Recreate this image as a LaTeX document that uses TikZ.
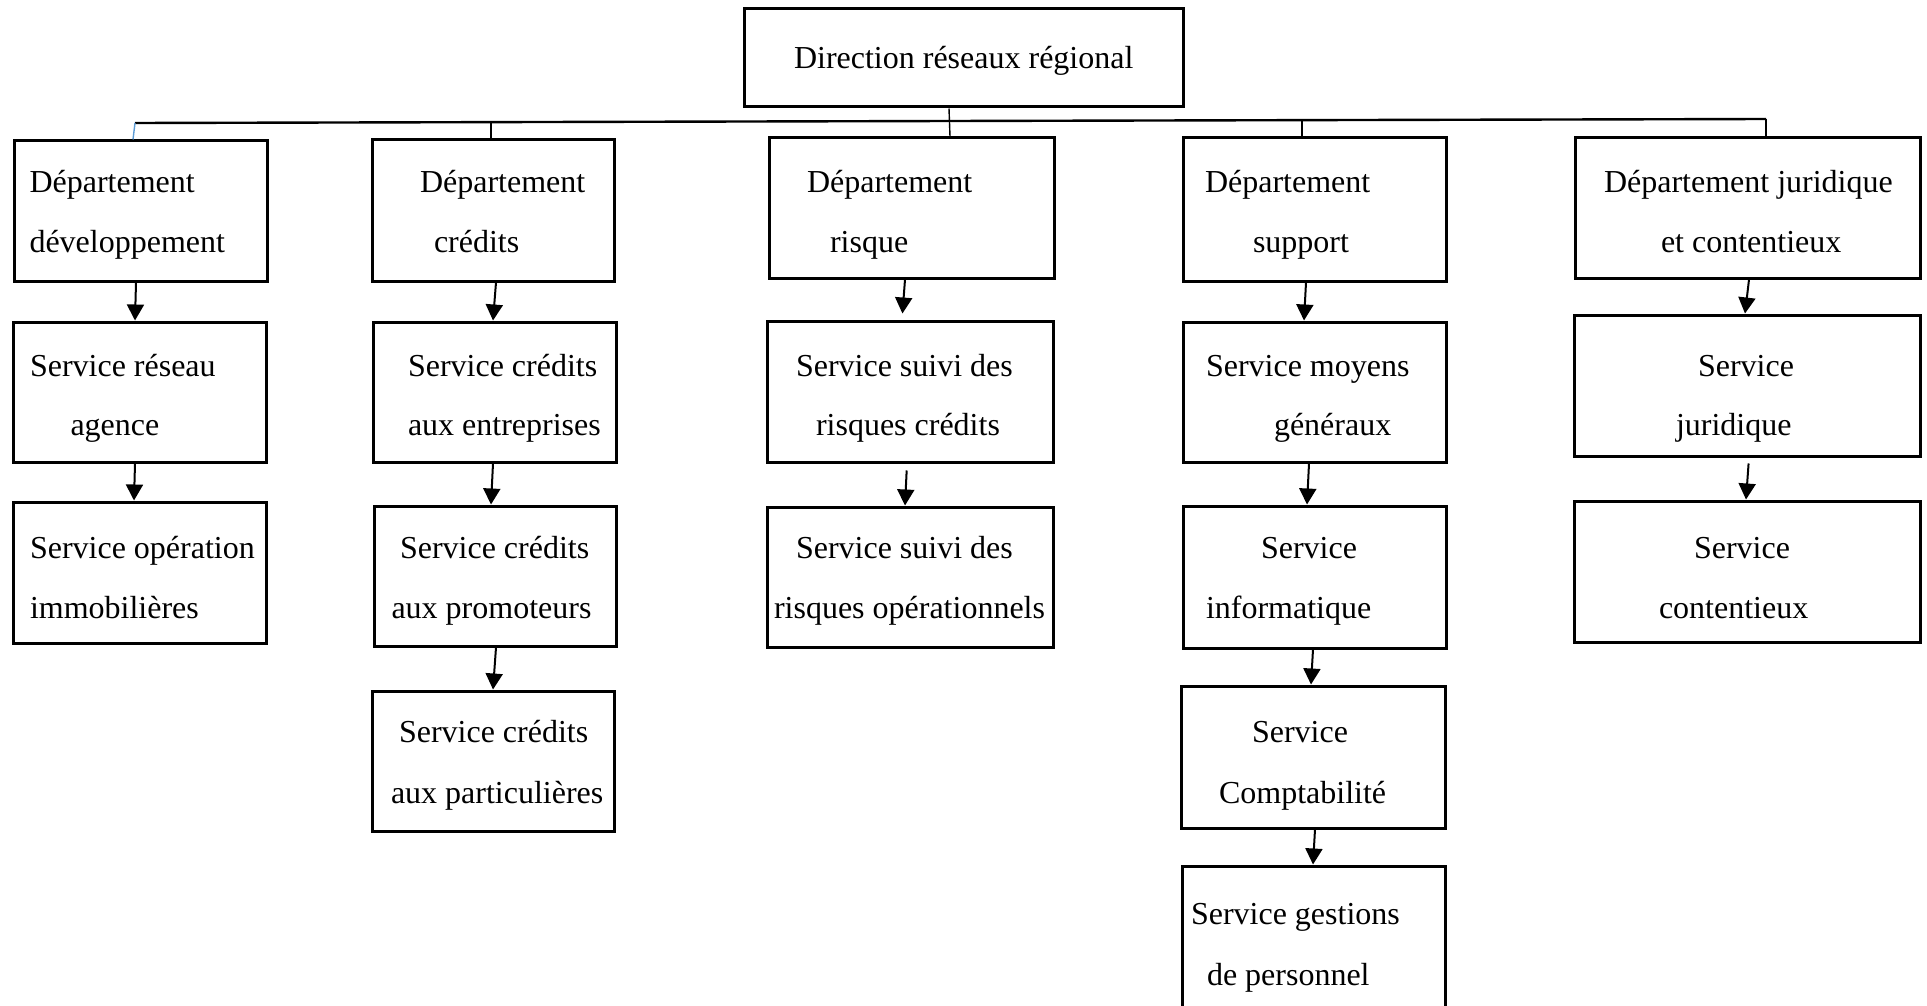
\documentclass[tikz,border=0pt]{standalone}
\usepackage{fontspec}
\setmainfont{Liberation Serif}
\usetikzlibrary{arrows.meta}
\definecolor{linkblue}{HTML}{5B9BD5}
\newcommand\mkbox[5]{\node[orgbox, minimum width={(#4-#2)*0.5pt}, minimum height={(#5-#3)*0.5pt}] (#1) at ({(#2+#4)/2},{(#3+#5)/2}) {};}
\begin{document}
\begin{tikzpicture}[x=0.5pt,y=-0.5pt,
  orgbox/.style={draw=black, line width=1.5pt, inner sep=0pt, fill=none},
  txt/.style={anchor=base west, inner sep=0pt, outer sep=0pt, font=\fontsize{16}{19}\selectfont},
  conn/.style={draw=black, line width=0.9pt},
  arr/.style={draw=black, line width=1pt, -{Triangle[length=8pt,width=8.5pt]}}]
\useasboundingbox (0,0) rectangle (1927,1006);
\clip (0,0) rectangle (1927,1006);
% boxes
\mkbox{dir}{744}{9}{1183}{107}
\mkbox{dev}{14}{141}{267}{281}
\mkbox{cre}{372}{140}{614}{281}
\mkbox{ris}{769}{138}{1054}{278}
\mkbox{sup}{1183}{138}{1446}{281}
\mkbox{jur}{1575}{138}{1920}{278}
\mkbox{res}{13}{322}{266}{462}
\mkbox{ent}{373}{322}{616}{462}
\mkbox{sra}{767}{321}{1053}{462}
\mkbox{moy}{1183}{322}{1446}{462}
\mkbox{sjr}{1574}{315}{1920}{456}
\mkbox{ope}{13}{502}{266}{643}
\mkbox{pro}{374}{506}{616}{646}
\mkbox{srb}{767}{507}{1053}{647}
\mkbox{inf}{1183}{506}{1446}{648}
\mkbox{cnt}{1574}{501}{1920}{642}
\mkbox{par}{372}{691}{614}{831}
\mkbox{cpt}{1181}{686}{1445}{828}
\mkbox{per}{1182}{866}{1445}{1040}
% texts
\node[txt] (tdir) at (794,69) {Direction réseaux régional};
\node[txt] (tdev1) at (29.5,192) {Département};
\node[txt] (tdev2) at (29.5,252) {développement};
\node[txt] (tcre1) at (420,192) {Département};
\node[txt] (tcre2) at (434,252) {crédits};
\node[txt] (tris1) at (807,192) {Département};
\node[txt] (tris2) at (830,252) {risque};
\node[txt] (tsup1) at (1205,192) {Département};
\node[txt] (tsup2) at (1253,252) {support};
\node[txt] (tjur1) at (1604,192) {Département juridique};
\node[txt] (tjur2) at (1661,252) {et contentieux};
\node[txt] (tres1) at (30,376) {Service réseau};
\node[txt] (tres2) at (70.5,435) {agence};
\node[txt] (tent1) at (408,376) {Service crédits};
\node[txt] (tent2) at (408,435) {aux entreprises};
\node[txt] (tsra1) at (796,376) {Service suivi des};
\node[txt] (tsra2) at (816,435) {risques crédits};
\node[txt] (tmoy1) at (1206,376) {Service moyens};
\node[txt] (tmoy2) at (1274,435) {généraux};
\node[txt] (tsjr1) at (1698,376) {Service};
\node[txt] (tsjr2) at (1676,435) {juridique};
\node[txt] (tope1) at (30,558) {Service opération};
\node[txt] (tope2) at (30,618) {immobilières};
\node[txt] (tpro1) at (400,558) {Service crédits};
\node[txt] (tpro2) at (391.5,618) {aux promoteurs};
\node[txt] (tsrb1) at (796,558) {Service suivi des};
\node[txt] (tsrb2) at (774,618) {risques opérationnels};
\node[txt] (tinf1) at (1261,558) {Service};
\node[txt] (tinf2) at (1206,618) {informatique};
\node[txt] (tcnt1) at (1694,558) {Service};
\node[txt] (tcnt2) at (1659,618) {contentieux};
\node[txt] (tpar1) at (399,742) {Service crédits};
\node[txt] (tpar2) at (391,803) {aux particulières};
\node[txt] (tcpt1) at (1252,742) {Service};
\node[txt] (tcpt2) at (1219,803) {Comptabilité};
\node[txt] (tper1) at (1191,924) {Service gestions};
\node[txt] (tper2) at (1207,985) {de personnel};
% top connectors
\coordinate (hl) at (135,123);
\coordinate (hr) at (1766,119);
\coordinate (hc) at (491,122.1);
\coordinate (hs) at (1302,119.6);
\draw[conn, line width=1.2pt] (hl) -- (hr);
\draw[draw=linkblue, line width=0.7pt] (hl) -- (dev.north -| 133,0);
\draw[conn, line width=0.7pt] (hc) -- (cre.north -| 491,0);
\draw[conn, line width=0.7pt] (dir.south -| 949,0) -- (ris.north -| 950,0);
\draw[conn, line width=0.7pt] (hs) -- (sup.north -| 1302,0);
\draw[conn, line width=1pt] (hr) -- (jur.north -| 1766,0);
% arrows
\draw[arr] (dev.south -| 136,0) -- (res.north -| 135,0);
\draw[arr] (res.south -| 135,0) -- (ope.north -| 134,0);
\draw[arr] (cre.south -| 496,0) -- (ent.north -| 493,0);
\draw[arr] (ent.south -| 493,0) -- (pro.north -| 491,0);
\draw[arr] (pro.south -| 496,0) -- (par.north -| 493,0);
\draw[arr, shorten >=3pt] (ris.south -| 905,0) -- (sra.north -| 902,0);
\draw[arr, shorten <=3.5pt] (sra.south -| 907,0) -- (srb.north -| 905,0);
\draw[arr] (sup.south -| 1306,0) -- (moy.north -| 1304,0);
\draw[arr] (moy.south -| 1309,0) -- (inf.north -| 1307,0);
\draw[arr] (inf.south -| 1313,0) -- (cpt.north -| 1311,0);
\draw[arr] (cpt.south -| 1315,0) -- (per.north -| 1313,0);
\draw[arr] (jur.south -| 1749,0) -- (sjr.north -| 1745,0);
\draw[arr, shorten <=3pt] (sjr.south -| 1749,0) -- (cnt.north -| 1746,0);
\end{tikzpicture}
\end{document}
